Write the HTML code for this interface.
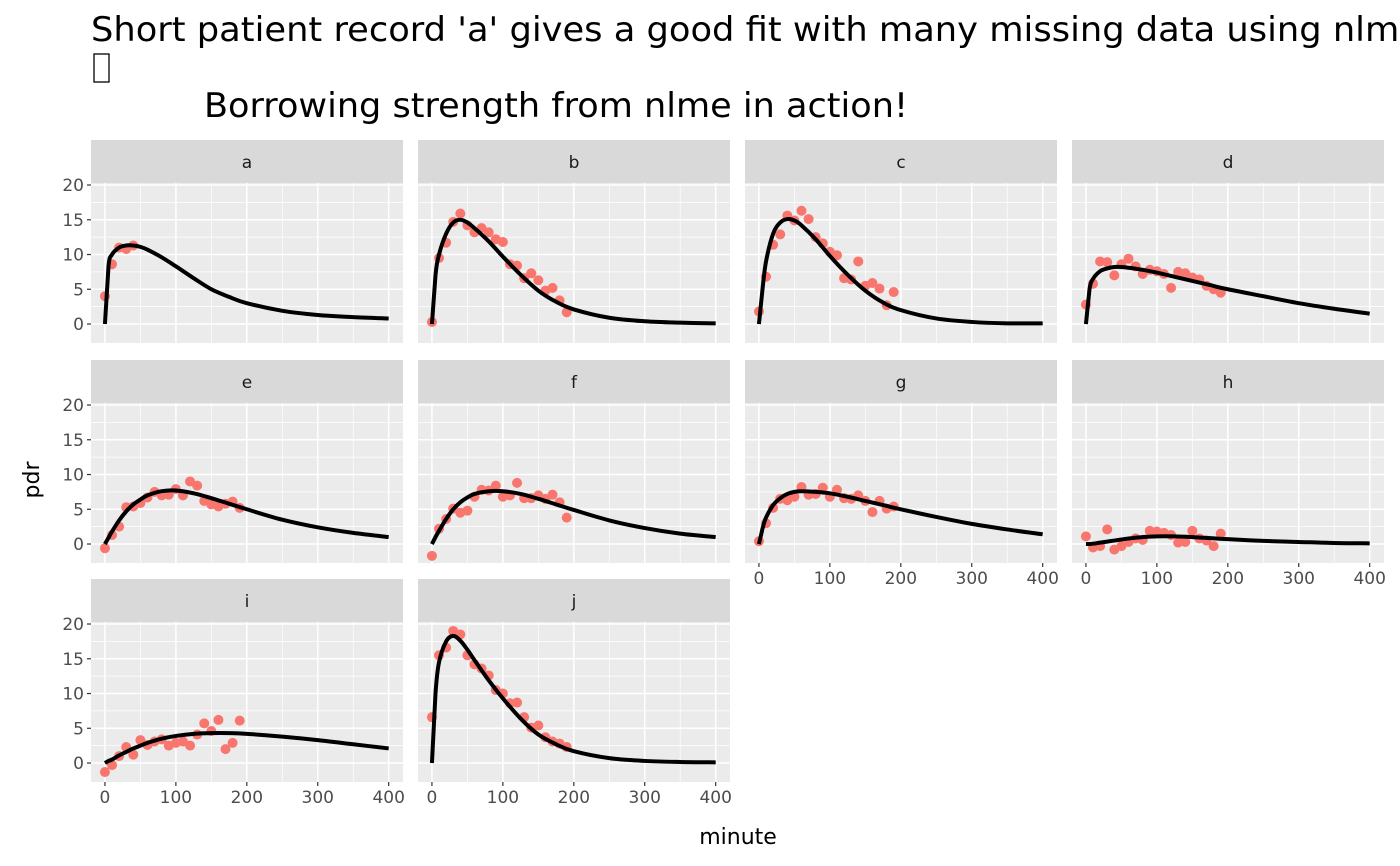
<!DOCTYPE html>
<html><head><meta charset="utf-8"><style>
body{margin:0;background:#fff;overflow:hidden;}
svg{display:block;font-family:"DejaVu Sans","Liberation Sans",sans-serif;}
</style></head><body>
<svg id="chart" width="1400" height="866" viewBox="0 0 1400 866">
<text x="91" y="41" font-size="34" textLength="1330" lengthAdjust="spacingAndGlyphs" fill="#000">Short patient record 'a' gives a good fit with many missing data using nlme</text>
<rect x="94" y="54" width="15" height="28" fill="none" stroke="#000" stroke-width="1.3"/>
<text x="204" y="117" font-size="34" textLength="704" lengthAdjust="spacingAndGlyphs" fill="#000">Borrowing strength from nlme in action!</text>
<text x="0" y="0" font-size="22" fill="#000" text-anchor="middle" transform="translate(39,480) rotate(-90)">pdr</text>
<text x="738" y="844" font-size="22" fill="#000" text-anchor="middle">minute</text>
</svg>
<script>
const panels = ['a','b','c','d','e','f','g','h','i','j'];
const pointMinutes = [0,10,20,30,40,50,60,70,80,90,100,110,120,130,140,150,160,170,180,190];
const pts_a = [4,8.6,11,10.8,11.3];
const pts_b = [0.3,9.5,11.7,14.7,15.9,14.2,13.2,13.8,13.2,12.2,11.8,8.6,8.4,6.6,7.3,6.3,4.8,5.2,3.4,1.7];
const pts_c = [1.8,6.8,11.4,12.9,15.6,14.9,16.3,15.1,12.5,11.6,10.4,9.9,6.6,6.4,9,5.5,5.9,5.1,2.7,4.6];
const pts_d = [2.8,5.8,9,8.9,7,8.6,9.4,8.3,7.2,7.8,7.6,7.2,5.2,7.5,7.3,6.7,6.4,5.5,5.0,4.5];
const pts_e = [-0.6,1.3,2.5,5.3,5.4,5.9,6.7,7.5,7,7.1,7.9,7.0,9,8.4,6.2,5.7,5.4,5.8,6.1,5.2];
const pts_f = [-1.7,2.2,3.6,5.1,4.5,4.8,6.8,7.8,7.7,8.4,6.8,7.0,8.8,6.6,6.6,7.0,6.5,7.1,6.0,3.8];
const pts_g = [0.4,3.0,5.2,6.5,6.3,6.8,8.2,7.1,7.2,8.1,6.8,7.8,6.6,6.5,7.0,6.2,4.6,6.2,5.1,5.4];
const pts_h = [1.1,-0.5,-0.3,2.1,-0.8,-0.3,0.3,0.8,0.6,1.9,1.8,1.6,1.3,0.2,0.3,1.9,0.8,0.5,-0.3,1.5];
const pts_i = [-1.3,-0.3,1.0,2.3,1.2,3.3,2.6,3.1,3.4,2.5,2.9,3.1,2.5,4.1,5.7,4.6,6.2,2.0,2.9,6.1];
const pts_j = [6.6,15.5,16.6,19,18.5,15.5,14.2,13.6,12.6,10.5,10,8.6,8.7,6.6,5.1,5.4,3.7,3.1,2.8,2.3];
const curveMinutes = [0,5,10,20,30,40,50,60,80,100,125,150,175,200,250,300,350,400];
const fit_a = [0,8.3,10,11,11.3,11.3,11.1,10.7,9.6,8.3,6.6,5.0,3.9,3.0,1.9,1.3,1.0,0.8];
const fit_b = [0,7,10,13,14.6,15,14.6,13.8,11.9,9.7,7.1,4.8,3.2,2.1,0.9,0.4,0.2,0.1];
const fit_c = [0,5,9,13,14.6,15.1,14.9,14.2,12.2,9.8,7.1,4.8,3.1,2.0,0.8,0.3,0.1,0.1];
const fit_d = [0,5,6.5,7.6,8.0,8.2,8.2,8.1,7.8,7.4,6.8,6.2,5.6,5.0,4.0,3.0,2.2,1.5];
const fit_e = [0,0.9,1.8,3.4,4.7,5.7,6.4,7.0,7.6,7.7,7.3,6.6,5.8,5.0,3.5,2.4,1.6,1.0];
const fit_f = [0,1.0,1.9,3.6,5.0,6.0,6.7,7.2,7.6,7.6,7.2,6.5,5.7,4.9,3.4,2.3,1.5,1.0];
const fit_g = [0,2.2,3.8,5.6,6.6,7.2,7.5,7.6,7.5,7.3,6.8,6.2,5.6,5.0,3.9,2.9,2.1,1.4];
const fit_h = [0,0,0.05,0.2,0.35,0.5,0.65,0.8,1.0,1.1,1.1,1.0,0.85,0.7,0.45,0.3,0.15,0.1];
const fit_i = [0,0.3,0.5,1.1,1.6,2.1,2.5,2.9,3.5,3.9,4.2,4.3,4.3,4.2,3.8,3.3,2.7,2.1];
const fit_j = [0,10,14.5,17.5,18.3,17.6,16.3,14.8,11.9,9.3,6.4,4.1,2.7,1.7,0.7,0.3,0.15,0.1];
const xTicks = [0,100,200,300,400];
const yTicks = [0,5,10,15,20];
const xTickLabels = ['0','100','200','300','400'];
const yTickLabels = ['0','5','10','15','20'];

const allPts = {a:pts_a,b:pts_b,c:pts_c,d:pts_d,e:pts_e,f:pts_f,g:pts_g,h:pts_h,i:pts_i,j:pts_j};
const allFit = {a:fit_a,b:fit_b,c:fit_c,d:fit_d,e:fit_e,f:fit_f,g:fit_g,h:fit_h,i:fit_i,j:fit_j};
const NS='http://www.w3.org/2000/svg';
const svg=document.getElementById('chart');
const colLeft=[91,418,745,1072], rowTop=[140,360,579], PW=312, PH=160, SH=43;
const X0=-19.65, X1=420.2, Y0=-2.73, Y1=20.29;
function mk(tag,attrs,parent){const e=document.createElementNS(NS,tag);for(const k in attrs)e.setAttribute(k,attrs[k]);(parent||svg).appendChild(e);return e;}
function smoothPath(P){
  let d='M'+P[0][0].toFixed(2)+','+P[0][1].toFixed(2);
  d+=' L'+P[1][0].toFixed(2)+','+P[1][1].toFixed(2);
  for(let i=1;i<P.length-1;i++){
    const p0=P[i-1],p1=P[i],p2=P[i+1],p3=P[Math.min(i+2,P.length-1)];
    const c1=[p1[0]+(p2[0]-p0[0])/6,p1[1]+(p2[1]-p0[1])/6];
    const c2=[p2[0]-(p3[0]-p1[0])/6,p2[1]-(p3[1]-p1[1])/6];
    d+=' C'+c1.map(v=>v.toFixed(2)).join(',')+' '+c2.map(v=>v.toFixed(2)).join(',')+' '+p2.map(v=>v.toFixed(2)).join(',');
  }
  return d;
}
panels.forEach((p,idx)=>{
  const c=idx%4, r=Math.floor(idx/4);
  const L=colLeft[c], T=rowTop[r]+SH;
  const sx=v=>L+(v-X0)/(X1-X0)*PW;
  const sy=v=>T+PH-(v-Y0)/(Y1-Y0)*PH;
  const g=mk('g',{});
  
  
  const strip=mk('rect',{x:L,y:rowTop[r],width:PW,height:SH,fill:'#d9d9d9'},g);
  
  
  const st=mk('text',{x:L+PW/2,y:rowTop[r]+28,'font-size':17,fill:'#1a1a1a','text-anchor':'middle'},g);
  st.textContent=p;
  
  
  const bg=mk('rect',{x:L,y:T,width:PW,height:PH,fill:'#ebebeb'},g);
  
  
  for(let k=0;k<xTicks.length-1;k++){const m=(xTicks[k]+xTicks[k+1])/2;mk('line',{x1:sx(m),x2:sx(m),y1:T,y2:T+PH,stroke:'#fff','stroke-width':0.7},g);}
  for(let k=0;k<yTicks.length-1;k++){const m=(yTicks[k]+yTicks[k+1])/2;mk('line',{x1:L,x2:L+PW,y1:sy(m),y2:sy(m),stroke:'#fff','stroke-width':0.7},g);}
  xTicks.forEach(v=>mk('line',{x1:sx(v),x2:sx(v),y1:T,y2:T+PH,stroke:'#fff','stroke-width':1.5},g));
  yTicks.forEach(v=>mk('line',{x1:L,x2:L+PW,y1:sy(v),y2:sy(v),stroke:'#fff','stroke-width':1.5},g));
  allPts[p].forEach((v,k)=>{
    const d=mk('circle',{cx:sx(pointMinutes[k]),cy:sy(v),r:5,fill:'#F8766D'},g);
    
    
  });
  const P=allFit[p].map((v,k)=>[sx(curveMinutes[k]),sy(v)]);
  const ln=mk('path',{d:smoothPath(P),fill:'none',stroke:'#000','stroke-width':4,'stroke-linejoin':'round'},g);
  
  
  if(c===0){
    yTicks.forEach((v,k)=>{
      mk('line',{x1:L-4,x2:L,y1:sy(v),y2:sy(v),stroke:'#333','stroke-width':1.2},g);
      const t=mk('text',{x:L-7,y:sy(v)+6,'font-size':17,fill:'#4d4d4d','text-anchor':'end'},g);
      t.textContent=yTickLabels[k];
      
      
    });
  }
  const bottom = r===2 || (r===1 && c>=2);
  if(bottom){
    xTicks.forEach((v,k)=>{
      mk('line',{x1:sx(v),x2:sx(v),y1:T+PH,y2:T+PH+4,stroke:'#333','stroke-width':1.2},g);
      const t=mk('text',{x:sx(v),y:T+PH+21,'font-size':17,fill:'#4d4d4d','text-anchor':'middle'},g);
      t.textContent=xTickLabels[k];
      
      
    });
  }
});
</script>
</body></html>
